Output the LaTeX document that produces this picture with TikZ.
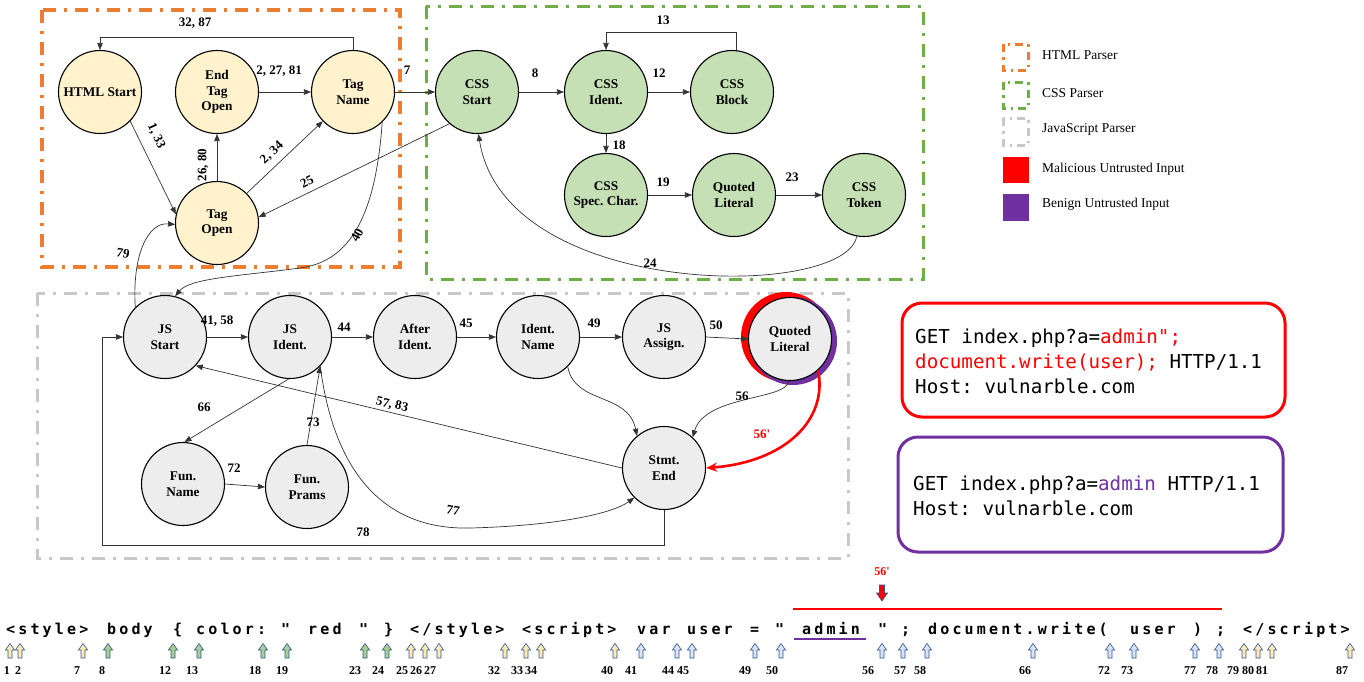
\documentclass[tikz,border=0pt]{standalone}
\usepackage{fontspec}
\setmainfont{Liberation Serif}
\newfontfamily\monof{DejaVu Sans Mono}
\newfontfamily\tokf[LetterSpace=21]{DejaVu Sans Mono}
\usetikzlibrary{arrows.meta}
\frenchspacing
\definecolor{horange}{HTML}{ED7D31}
\definecolor{cgreen}{HTML}{70AD47}
\definecolor{jgray}{HTML}{C8C8C8}
\definecolor{hfill}{HTML}{FFF2CC}
\definecolor{cfill}{HTML}{C5E0B4}
\definecolor{jfill}{HTML}{EDEDED}
\definecolor{mred}{HTML}{FF0000}
\definecolor{bpurple}{HTML}{7030A0}
\definecolor{arrblue}{HTML}{2F5597}
\definecolor{ab}{HTML}{DAE3F3}
\definecolor{ag}{HTML}{A9D18E}
\definecolor{ay}{HTML}{FFEBB0}
\begin{document}
\frenchspacing
\begin{tikzpicture}[x=1pt,y=-1pt,
  stnode/.style={circle, draw=black, line width=1.1pt, minimum size=83pt, inner sep=0pt, align=center, font=\fontsize{13.3}{15.5}\selectfont\bfseries},
  hnode/.style={stnode, fill=hfill},
  cnode/.style={stnode, fill=cfill},
  jnode/.style={stnode, fill=jfill},
  conn/.style={draw=black!80, line width=0.7pt, -{Triangle[length=7pt,width=5.5pt]}},
  redconn/.style={draw=mred, line width=2.6pt, -{Stealth[length=11pt,width=9pt]}},
  elab/.style={font=\fontsize{13}{15}\selectfont\bfseries, inner sep=0.5pt},
  numlab/.style={font=\fontsize{12}{14}\selectfont\bfseries, inner sep=0pt},
  ddash/.style={dash pattern=on 13pt off 8pt on 3pt off 8pt},
  ddsmall/.style={dash pattern=on 8pt off 5pt on 2.5pt off 5pt},
  legtxt/.style={anchor=west, font=\fontsize{13.5}{16}\selectfont, inner sep=0pt},
  reqtxt/.style={anchor=base west, font=\monof\fontsize{19.2}{26}\selectfont, inner sep=0pt},
  toktxt/.style={anchor=base west, font=\tokf\bfseries\fontsize{15}{18}\selectfont, inner sep=0pt},
  tokarrow/.style={draw=arrblue, line width=0.6pt}
]
\useasboundingbox (0,0) rectangle (1364,681);

% parser boxes
\draw[horange, line width=3.5pt, ddash] (42,10) rectangle (400,267);
\draw[cgreen, line width=3pt, ddash] (426,6) rectangle (923,279);
\draw[jgray, line width=3pt, ddash] (37,293) rectangle (848,558);

% HTML nodes
\node[hnode] (hs) at (100,92) {HTML Start};
\node[hnode] (eto) at (217,92) {End\\Tag\\Open};
\node[hnode] (tn) at (353,92) {Tag\\Name};
\node[hnode] (to) at (217,223) {Tag\\Open};

% CSS nodes
\node[cnode] (cs) at (477,92) {CSS\\Start};
\node[cnode] (ci) at (606,92) {CSS\\Ident.};
\node[cnode] (cb) at (732,92) {CSS\\Block};
\node[cnode] (csc) at (606,195) {CSS\\Spec. Char.};
\node[cnode] (cql) at (734,195) {Quoted\\Literal};
\node[cnode] (ct) at (864,195) {CSS\\Token};

% JS nodes
\fill[mred] (786,337) circle (45);
\fill[bpurple] (793,341) circle (44);
\node[jnode] (jql) at (790,339) {Quoted\\Literal};
\node[jnode] (jss) at (165,337) {JS\\Start};
\node[jnode] (jsi) at (290,337) {JS\\Ident.};
\node[jnode] (ai) at (415,337) {After\\Ident.};
\node[jnode] (in) at (538,337) {Ident.\\Name};
\node[jnode] (ja) at (664,337) {JS\\Assign.};
\node[jnode] (se) at (664,468) {Stmt.\\End};
\node[jnode] (fn) at (183,484) {Fun.\\Name};
\node[jnode] (fp) at (307,487) {Fun.\\Prams};

% HTML edges
\draw[conn] (tn.north) -- ++(0,-13) -| (hs.north);
\draw[conn] (eto.east) -- (tn.west);
\draw[conn] (hs.-44) -- (to.168);
\draw[conn] (to.north) -- (eto.south);
\draw[conn] (to.45) -- (tn.-136);
\draw[conn] (cs.-131) -- (to.8);
\draw[conn] (tn.east) -- (cs.west);
\draw[conn] (tn.-46) .. controls (375,225) and (345,262) .. (300,268) .. controls (240,276) and (190,278) .. (jss.76);
\draw[conn] (jss.135) .. controls (132,255) and (148,222) .. (to.182);

% CSS edges
\draw[conn] (cs.east) -- (ci.west);
\draw[conn] (ci.east) -- (cb.west);
\draw[conn] (cb.84) -- ++(0,-18) -| (ci.north);
\draw[conn] (ci.south) -- (csc.north);
\draw[conn] (csc.east) -- (cql.west);
\draw[conn] (cql.east) -- (ct.west);
\draw[conn] (ct.-100) .. controls (845,300) and (505,300) .. (cs.-88);

% JS edges
\draw[conn] (jss.east) -- (jsi.west);
\draw[conn] (jsi.east) -- (ai.west);
\draw[conn] (ai.east) -- (in.west);
\draw[conn] (in.east) -- (ja.west);
\draw[conn] (ja.east) -- (jql.west);
\draw[conn] (jql.-92) .. controls (788,400) and (705,395) .. (se.47);
\draw[redconn] (jql.-48) .. controls (828,420) and (785,462) .. (se.east);
\draw[conn] (in.-45) .. controls (575,405) and (628,392) .. (se.130);
\draw[conn] (se.west) -- (jss.-43);
\draw[conn] (jsi.-92) -- (fn.88);
\draw[conn] (fn.east) -- (fp.west);
\draw[conn] (fp.north) -- (jsi.-44);
\draw[conn] (jsi.-44) .. controls (335,480) and (390,530) .. (470,528) .. controls (550,526) and (610,515) .. (se.-135);
\coordinate (c78) at (102,545);
\draw[conn] (se.south) |- (c78) |- (jss.west);

% edge labels
\node[elab] at (195,23) {32, 87};
\node[elab] at (279,71) {2, 27, 81};
\node[elab] at (407,70) {7};
\node[elab, rotate=-65] at (156,136) {1, 33};
\node[elab, rotate=90] at (203,165) {26, 80};
\node[elab, rotate=43] at (272,153) {2, 34};
\node[elab, rotate=27] at (307,182) {25};
\node[elab, rotate=62] at (357,235) {40};
\node[elab, rotate=-10] at (123,253) {79};
\node[elab] at (663,20) {13};
\node[elab] at (535,73) {8};
\node[elab] at (659,73) {12};
\node[elab] at (619,145) {18};
\node[elab] at (663,182) {19};
\node[elab] at (792,177) {23};
\node[elab] at (650,263) {24};
\node[elab] at (217,321) {41, 58};
\node[elab] at (344,327) {44};
\node[elab] at (466,323) {45};
\node[elab] at (594,323) {49};
\node[elab] at (716,325) {50};
\node[elab] at (742,396) {56};
\node[elab, text=mred] at (762,434) {56\textquotesingle};
\node[elab, rotate=-13] at (392,405) {57, 83};
\node[elab] at (204,407) {66};
\node[elab] at (234,468) {72};
\node[elab] at (313,422) {73};
\node[elab, rotate=-10] at (453,510) {77};
\node[elab] at (363,532) {78};

% legend
\draw[horange, line width=3pt, ddsmall] (1003,44) rectangle (1028,70);
\draw[cgreen, line width=3pt, ddsmall] (1003,82) rectangle (1028,108);
\draw[jgray, line width=3pt, ddsmall] (1003,118) rectangle (1028,145);
\fill[mred] (1003,157) rectangle (1029,183);
\fill[bpurple] (1003,194) rectangle (1029,221);
\node[legtxt] (l1) at (1042,55) {HTML Parser};
\node[legtxt] (l2) at (1042,93) {CSS Parser};
\node[legtxt] (l3) at (1042,129) {JavaScript Parser};
\node[legtxt] (l4) at (1042,169) {Malicious Untrusted Input};
\node[legtxt] (l5) at (1042,204) {Benign Untrusted Input};

% request boxes
\draw[mred, line width=3pt, rounded corners=20pt] (902,303) rectangle (1285,417);
\node[reqtxt] (r1) at (915,343) {GET index.php?a=\textcolor{mred}{admin";}};
\node[reqtxt] (r2) at (915,368) {\textcolor{mred}{document.write(user);} HTTP/1.1};
\node[reqtxt] (r3) at (915,393) {Host: vulnarble.com};
\draw[bpurple, line width=3pt, rounded corners=20pt] (898,437) rectangle (1283,552);
\node[reqtxt] (b1) at (913,490) {GET index.php?a=\textcolor{bpurple}{admin} HTTP/1.1};
\node[reqtxt] (b2) at (913,515) {Host: vulnarble.com};

% token string
\foreach \x/\t in {6/{<style>},107/{body},173/{\{},196/{color:},281/{"},308/{red},359/{"},384/{\}},410/{</style>},522/{<script>},637/{var},687/{user},750/{=},775/{"},802/{admin},878/{"},901/{;},928/{document.write(},1130/{user},1193/{)},1216/{;},1243/{</script>}}
  \node[toktxt] at (\x,634) {\t};
\draw[mred, line width=1.5pt] (793,609) -- (1222,609);
\draw[bpurple, line width=1.5pt] (794,639) -- (866,639);
\filldraw[tokarrow, fill=mred] (879.5,585) -- (884.5,585) -- (884.5,593) -- (887.5,593) -- (882,601) -- (876.5,593) -- (879.5,593) -- cycle;
\node[numlab, text=mred] at (882,572) {56\textquotesingle};

\foreach \x/\c in {10/ay,20/ay,83/ay,108/ag,173/ag,199/ag,263/ag,287/ag,365/ag,387/ag,411/ay,425/ay,439/ay,505/ay,526/ay,541/ay,615/ay,641/ab,677/ab,692/ab,755/ab,781/ab,882/ab,903/ab,927/ab,1033/ab,1110/ab,1134/ab,1195/ab,1219/ab,1244/ay,1258/ay,1272/ay,1350/ay}
  \filldraw[tokarrow, fill=\c] (\x-2,658) -- (\x-2,650) -- (\x-4.6,650) -- (\x,643.5) -- (\x+4.6,650) -- (\x+2,650) -- (\x+2,658) -- cycle;

\foreach \x/\t in {7/1,18/2,77/7,102/8,165/12,192/13,255/18,282/19,355/23,378/24,402/25,416/26,430/27,494/32,517/33,531/34,607/40,631/41,668/44,683/45,745/49,772/50,868/56,900/57,920/58,1025/66,1104/72,1127/73,1190/77,1212/78,1233/79,1248/80,1262/81,1342/87}
  \node[numlab] at (\x,671) {\t};
\end{tikzpicture}
\end{document}
